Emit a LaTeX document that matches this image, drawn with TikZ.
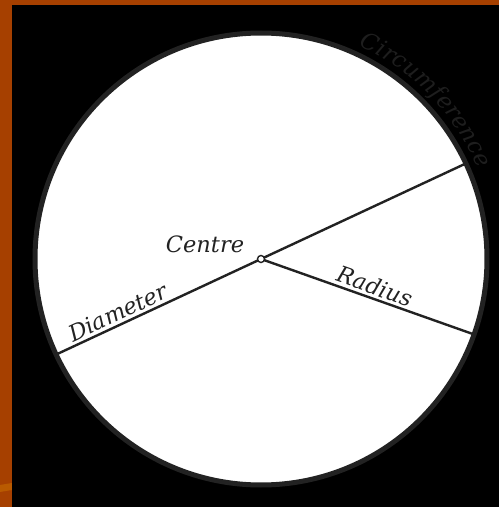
\documentclass[tikz,border=0pt]{standalone}
\usepackage{fontspec}
\usetikzlibrary{decorations.text}
\newfontfamily\lblfont{DejaVu Serif}
\definecolor{frame}{RGB}{166,64,0}
\definecolor{streak}{RGB}{185,90,0}
\definecolor{ink}{RGB}{34,34,34}
\definecolor{faint}{RGB}{30,30,30}
\begin{document}
\begin{tikzpicture}[x=1pt,y=1pt,
  lbl/.style={font=\lblfont\fontsize{22.5}{22.5}\selectfont\itshape, text=ink, inner sep=2.5pt},
  seg/.style={draw=ink, line width=2.4pt}]
\useasboundingbox (0,0) rectangle (499,507);
\fill[frame] (0,0) rectangle (499,507);
\fill[streak] (0,15) -- (12,17) -- (12,24) -- (0,22) -- cycle;
\fill[black] (12,0) rectangle (499,502);
\coordinate (O) at (261,248);
\draw[ink, fill=white, line width=5pt] (O) circle[radius=226];
\path (O) ++(25:224) coordinate (A);
\path (O) ++(205:224) coordinate (B);
\path (O) ++(-19.5:224) coordinate (R);
\draw[seg] (B) -- node[lbl, pos=0.32, sloped, above] {Diameter} (O);
\draw[seg] (O) -- (A);
\draw[seg] (O) -- node[lbl, pos=0.52, sloped, above] {Radius} (R);
\node[draw=ink, fill=white, line width=1.4pt, circle, minimum size=7pt, inner sep=0pt] (c) at (O) {};
\node[lbl, anchor=base] (centre) at (205,254) {Centre};
\path[decorate, decoration={text along path, text align=center, raise=3pt,
  text={|\lblfont\fontsize{23}{23}\selectfont\itshape\color{faint}|Circumference}}]
  (O) ++(78:232) arc[start angle=78, end angle=10, radius=232];
\end{tikzpicture}
\end{document}
